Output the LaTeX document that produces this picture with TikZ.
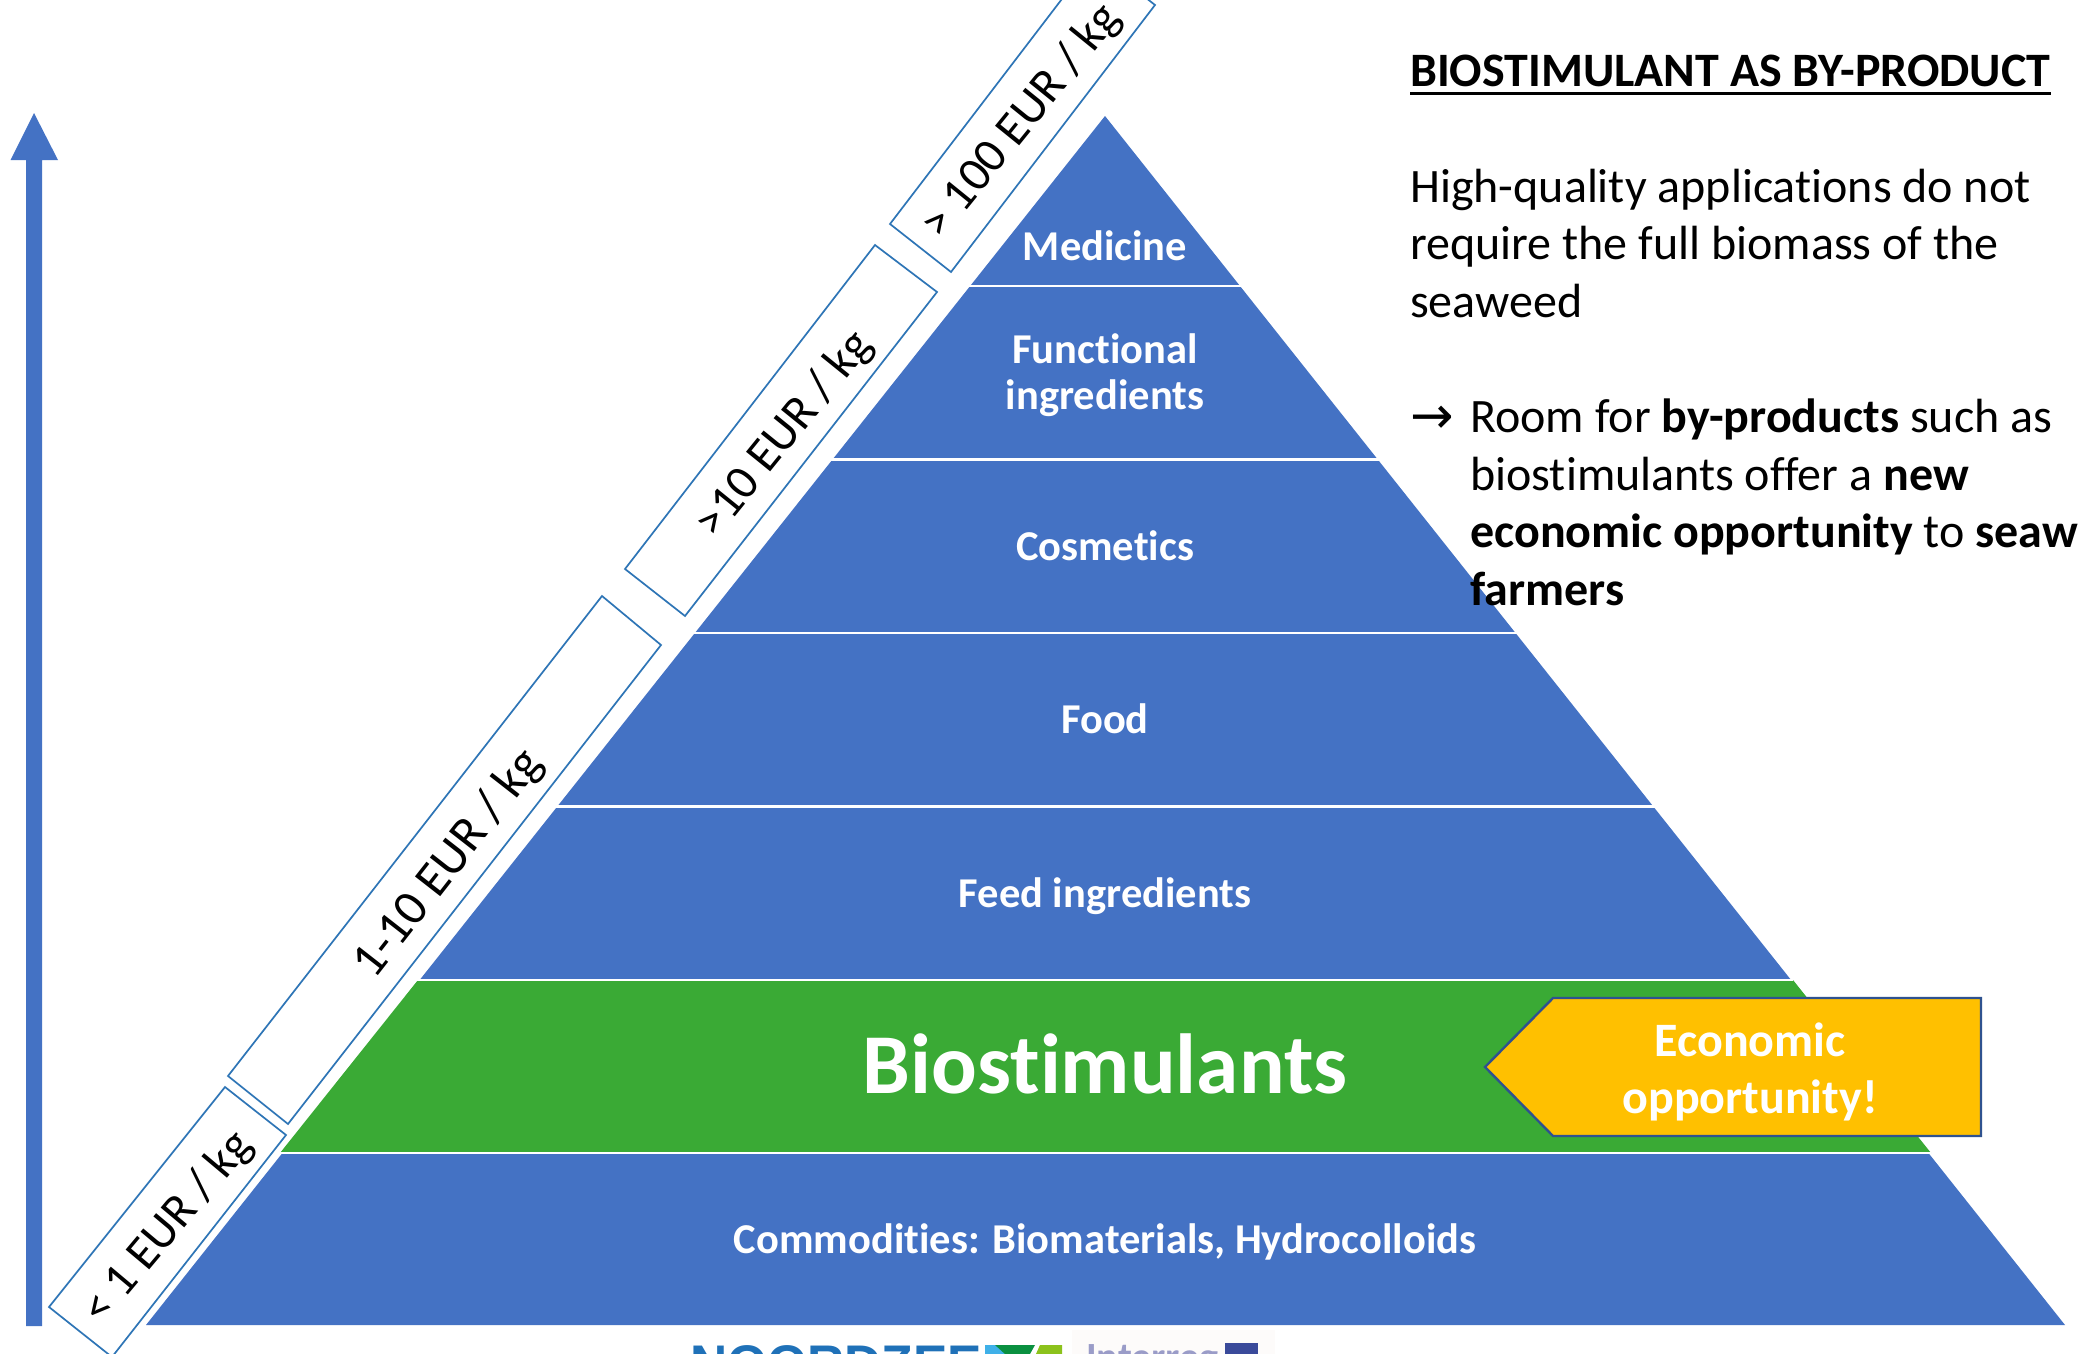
\documentclass[tikz,border=0pt]{standalone}
\usepackage{fontspec}
\setmainfont[Ligatures=NoCommon]{Carlito}
\newfontfamily\symfont{DejaVu Sans}
\newfontfamily\logofont{Liberation Sans}
\definecolor{pyrblue}{HTML}{4472C4}
\definecolor{pyrgreen}{HTML}{3AAA35}
\definecolor{boxblue}{HTML}{2E75B6}
\definecolor{callgold}{HTML}{FFC000}
\definecolor{callline}{HTML}{2F528F}
\definecolor{logoblue}{HTML}{1F71B8}
\definecolor{regblue}{HTML}{9A9CC8}
\definecolor{logocyan}{HTML}{3FB0E8}
\definecolor{logogreen}{HTML}{0A9040}
\definecolor{logolime}{HTML}{8CC21C}
\definecolor{flagblue}{HTML}{3A4A9A}
\definecolor{logobg}{HTML}{FDFBFA}
\newcommand{\fs}[1]{\fontsize{#1}{#1}\selectfont}
\tikzset{
  x=1pt,y=-1pt,
  sep/.style={draw=white,line width=2.6pt},
  pricebox/.style={draw=boxblue,line width=1.7pt,fill=white,line join=miter},
  pricetext/.style={text=black,anchor=center,inner sep=0pt,font=\fs{48.5}},
  bandtext/.style={text=white,anchor=center,inner sep=0pt,align=center,font=\fs{42.5}\bfseries},
  body/.style={text=black,anchor=base west,inner sep=0pt,font=\fs{48}},
}
\begin{document}
\begin{tikzpicture}
\useasboundingbox (0,0) rectangle (2078,1354);
\clip (0,0) rectangle (2078,1354);
\fill[white] (0,0) rectangle (2078,1354);
% vertical arrow
\fill[pyrblue] (26,1326) -- (26,160) -- (10.6,160) -- (34,113) -- (58,160) -- (42,160) -- (42,1326) -- cycle;
% pyramid
\fill[pyrblue] (1105,116) -- (2065,1325) -- (146,1325) -- cycle;
\fill[pyrgreen] (418,980) -- (1793,980) -- (1931,1153) -- (280,1153) -- cycle;
\foreach \y/\hw in {286/135,459.5/272.5,633/410,806.5/548,980/686,1153/824}{
  \draw[sep] ({1105-\hw-2},\y) -- ({1105+\hw+2},\y);
}
% price boxes
\draw[pricebox] (49,1307) -- (112,1357) -- (286,1135) -- (225,1087) -- cycle;
\draw[pricebox] (228,1076) -- (288,1124) -- (661,645) -- (602,596) -- cycle;
\draw[pricebox] (625,569) -- (685,616) -- (937,292) -- (875,245) -- cycle;
\draw[pricebox] (890,224) -- (951,272) -- (1155,5) -- (1094,-43) -- cycle;
\node[pricetext,rotate=50,font=\fs{48}] (p1) at (168.5,1228) {< 1 EUR / kg};
\node[pricetext,rotate=52,font=\fs{50}] (p2) at (449,864) {1-10 EUR / kg};
\node[pricetext,rotate=51] (p3) at (785,435) {>10 EUR / kg};
\node[pricetext,rotate=51] (p4) at (1022,122) {> 100 EUR / kg};
% band labels
\node[bandtext] (medicine) at (1105,246) {Medicine};
\node[bandtext] (functional) at (1105,375) {Functional\\[4pt]ingredients};
\node[bandtext] (cosmetics) at (1105,546) {Cosmetics};
\node[bandtext] (food) at (1105,719) {Food};
\node[bandtext] (feed) at (1105,896) {Feed ingredients};
\node[bandtext,font=\fs{85.2}\bfseries] (bio) at (1105,1064) {Biostimulants};
\node[bandtext] (commod) at (1105,1242) {Commodities: Biomaterials, Hydrocolloids};
% callout
\draw[fill=callgold,draw=callline,line width=2.4pt] (1981,998) -- (1981,1136) -- (1553,1136) -- (1485,1067) -- (1553,998) -- cycle;
\node[bandtext,font=\fs{48}\bfseries] (econ) at (1750,1071.5) {Economic\\[9pt]opportunity!};
% right text
\node[body,font=\fs{48}\bfseries] (title) at (1410,86) {BIOSTIMULANT AS BY-PRODUCT};
\draw[black,line width=3pt] (1410,93) -- (2051,93);
\node[body] (l1) at (1410,202) {High-quality applications do not};
\node[body] (l2) at (1410,259) {require the full biomass of the};
\node[body] (l3) at (1410,317) {seaweed};
\node[body,font=\fs{52}\symfont] (arrowmark) at (1410,433) {→};
\node[body] (l4) at (1470,432) {Room for \textbf{by-products} such as};
\node[body] (l5) at (1470,490) {biostimulants offer a \textbf{new}};
\node[body] (l6) at (1470,547) {\textbf{economic opportunity} to \textbf{seaweed}};
\node[body] (l7) at (1470,605) {\textbf{farmers}};
% logo strip
\fill[logobg] (1072,1330) rectangle (1275,1354);
\node[anchor=base west,inner sep=0pt,text=logoblue,font=\fs{51.5}\logofont\bfseries] (noord) at (690,1381) {NOORDZEE};
\fill[logocyan] (985,1345) -- (1000,1345) -- (1005,1354) -- (985,1354) -- cycle;
\fill[logogreen] (995,1345) -- (1035,1345) -- (1030,1354) -- (1005,1354) -- cycle;
\fill[logolime] (1040,1345) -- (1062,1345) -- (1062,1354) -- (1036,1354) -- cycle;
\node[anchor=base west,inner sep=0pt,text=regblue,font=\fs{40}\bfseries] (interreg) at (1086,1370) {Interreg};
\fill[flagblue] (1225,1343) rectangle (1258,1354);
\end{tikzpicture}
\end{document}
